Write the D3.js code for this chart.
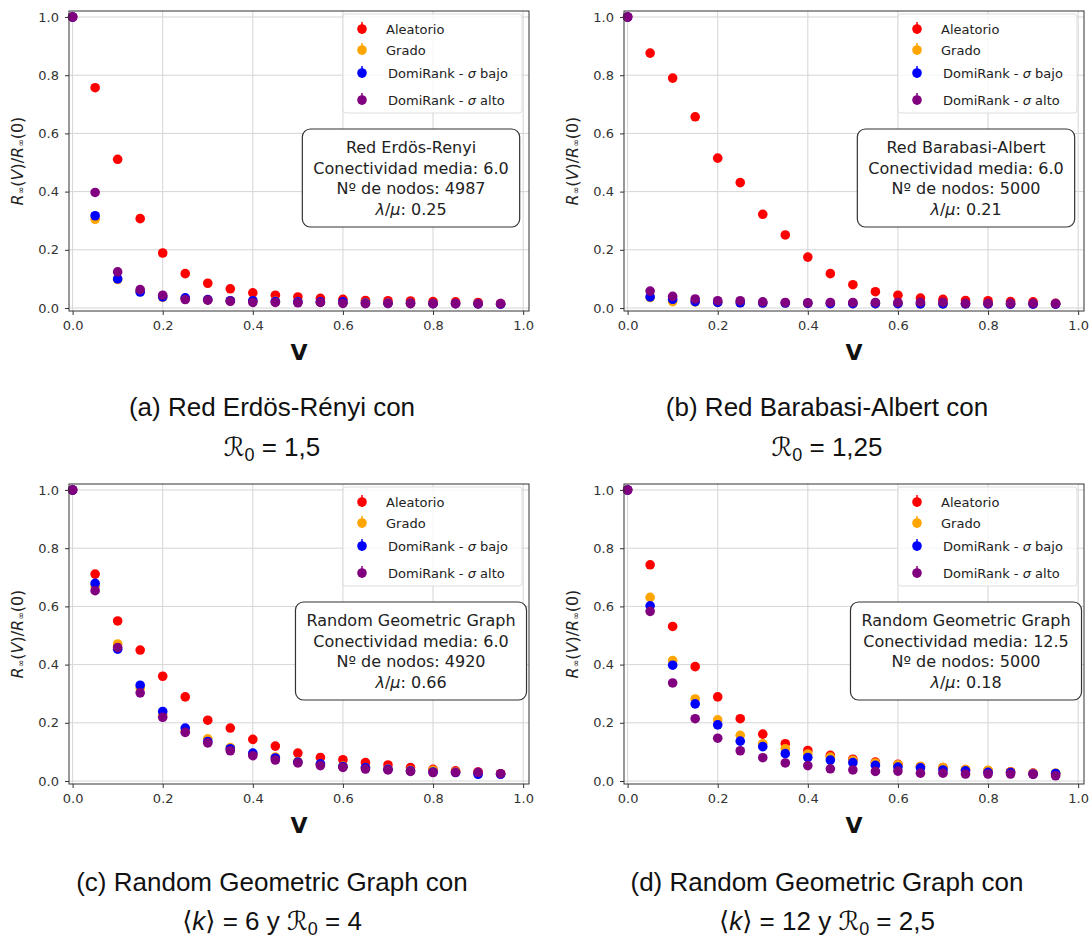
<!DOCTYPE html>
<html>
<head>
<meta charset="utf-8">
<script src="https://cdn.jsdelivr.net/npm/d3@7"></script>
<style>
  body { margin: 0; background: #fff; }
  svg { display: block; }
  .tick text { font-family: "DejaVu Sans", sans-serif; font-size: 13px; fill: #333; }
  .tick line { stroke: #333; }
</style>
</head>
<body>
<svg width="1092" height="943"></svg>
<script>
const fractions = [0, 0.05, 0.1, 0.15, 0.2, 0.25, 0.3, 0.35, 0.4, 0.45, 0.5, 0.55, 0.6, 0.65, 0.7, 0.75, 0.8, 0.85, 0.9, 0.95];
const tickValues = [0, 0.2, 0.4, 0.6, 0.8, 1.0];

const seriesNames = ['Aleatorio', 'Grado', 'DomiRank - σ bajo', 'DomiRank - σ alto'];
const seriesColors = ['#ff0000', '#ffa500', '#0000ff', '#800080'];

// (a) Erdös-Rényi
const erAleatorio = [1.0, 0.757, 0.511, 0.307, 0.189, 0.118, 0.085, 0.066, 0.052, 0.044, 0.038, 0.033, 0.030, 0.026, 0.025, 0.024, 0.022, 0.021, 0.019, 0.015];
const erGrado     = [1.0, 0.305, 0.098, 0.056, 0.037, 0.033, 0.028, 0.025, 0.024, 0.023, 0.021, 0.020, 0.019, 0.018, 0.017, 0.016, 0.015, 0.015, 0.014, 0.013];
const erDomiBajo  = [1.0, 0.317, 0.100, 0.055, 0.038, 0.035, 0.029, 0.025, 0.025, 0.022, 0.021, 0.021, 0.021, 0.017, 0.016, 0.016, 0.015, 0.015, 0.014, 0.013];
const erDomiAlto  = [1.0, 0.397, 0.124, 0.063, 0.044, 0.029, 0.027, 0.023, 0.019, 0.019, 0.018, 0.019, 0.016, 0.015, 0.016, 0.015, 0.015, 0.015, 0.015, 0.015];

// (b) Barabasi-Albert
const baAleatorio = [1.0, 0.876, 0.790, 0.657, 0.515, 0.431, 0.322, 0.251, 0.175, 0.118, 0.080, 0.056, 0.044, 0.034, 0.030, 0.026, 0.025, 0.022, 0.021, 0.016];
const baGrado     = [1.0, 0.036, 0.022, 0.021, 0.019, 0.018, 0.017, 0.017, 0.016, 0.016, 0.015, 0.015, 0.015, 0.014, 0.014, 0.014, 0.014, 0.013, 0.013, 0.013];
const baDomiBajo  = [1.0, 0.038, 0.030, 0.022, 0.019, 0.018, 0.017, 0.017, 0.016, 0.015, 0.015, 0.015, 0.015, 0.014, 0.014, 0.014, 0.014, 0.013, 0.013, 0.013];
const baDomiAlto  = [1.0, 0.058, 0.040, 0.031, 0.025, 0.025, 0.021, 0.019, 0.018, 0.019, 0.019, 0.019, 0.019, 0.020, 0.020, 0.016, 0.016, 0.016, 0.016, 0.015];

// (c) Random Geometric Graph, <k> = 6
const rgg6Aleatorio = [1.0, 0.711, 0.550, 0.450, 0.360, 0.289, 0.209, 0.182, 0.143, 0.120, 0.096, 0.081, 0.073, 0.063, 0.055, 0.046, 0.040, 0.035, 0.031, 0.025];
const rgg6Grado     = [1.0, 0.670, 0.471, 0.320, 0.228, 0.172, 0.145, 0.115, 0.092, 0.082, 0.067, 0.058, 0.051, 0.046, 0.041, 0.037, 0.037, 0.032, 0.028, 0.025];
const rgg6DomiBajo  = [1.0, 0.679, 0.453, 0.329, 0.239, 0.182, 0.136, 0.111, 0.096, 0.079, 0.065, 0.059, 0.050, 0.046, 0.040, 0.035, 0.031, 0.029, 0.023, 0.023];
const rgg6DomiAlto  = [1.0, 0.654, 0.459, 0.303, 0.219, 0.167, 0.131, 0.104, 0.087, 0.072, 0.062, 0.053, 0.047, 0.041, 0.038, 0.033, 0.029, 0.030, 0.030, 0.025];

// (d) Random Geometric Graph, <k> = 12
const rgg12Aleatorio = [1.0, 0.743, 0.531, 0.393, 0.289, 0.214, 0.161, 0.128, 0.105, 0.088, 0.075, 0.065, 0.057, 0.050, 0.046, 0.039, 0.035, 0.032, 0.027, 0.025];
const rgg12Grado     = [1.0, 0.631, 0.414, 0.282, 0.210, 0.157, 0.128, 0.111, 0.093, 0.082, 0.071, 0.062, 0.056, 0.050, 0.046, 0.039, 0.037, 0.031, 0.026, 0.027];
const rgg12DomiBajo  = [1.0, 0.602, 0.398, 0.265, 0.193, 0.137, 0.118, 0.094, 0.081, 0.072, 0.063, 0.054, 0.048, 0.045, 0.038, 0.035, 0.030, 0.029, 0.024, 0.026];
const rgg12DomiAlto  = [1.0, 0.583, 0.337, 0.214, 0.147, 0.104, 0.080, 0.062, 0.053, 0.042, 0.038, 0.033, 0.034, 0.027, 0.027, 0.024, 0.024, 0.024, 0.023, 0.018];

const infoLines = [
  ['Red Erdös-Renyi', 'Conectividad media: 6.0', 'Nº de nodos: 4987', '0.25'],
  ['Red Barabasi-Albert', 'Conectividad media: 6.0', 'Nº de nodos: 5000', '0.21'],
  ['Random Geometric Graph', 'Conectividad media: 6.0', 'Nº de nodos: 4920', '0.66'],
  ['Random Geometric Graph', 'Conectividad media: 12.5', 'Nº de nodos: 5000', '0.18']
];

const captionTitles = ['(a) Red Erdös-Rényi con', '(b) Red Barabasi-Albert con', '(c) Random Geometric Graph con', '(d) Random Geometric Graph con'];
// "_0" = subscript 0, "k" inside ⟨⟩ italic
const captionFormulas = ['ℛ_0 = 1,5', 'ℛ_0 = 1,25', '⟨k⟩ = 6 y ℛ_0 = 4', '⟨k⟩ = 12 y ℛ_0 = 2,5'];

const panelSeries = [
  [erAleatorio, erGrado, erDomiBajo, erDomiAlto],
  [baAleatorio, baGrado, baDomiBajo, baDomiAlto],
  [rgg6Aleatorio, rgg6Grado, rgg6DomiBajo, rgg6DomiAlto],
  [rgg12Aleatorio, rgg12Grado, rgg12DomiBajo, rgg12DomiAlto]
];

// layout
const frames = [
  {left: 69, top: 11}, {left: 624, top: 11},
  {left: 69, top: 484}, {left: 624, top: 484}
];
const plotW = 460, plotH = 300;
const captionX = [272, 827, 272, 827];
const captionY = [[416, 456], [416, 456], [891, 930], [891, 930]];

const svg = d3.select('svg');
const font = '"DejaVu Sans", sans-serif';

panelSeries.forEach((series, p) => {
  const f = frames[p];
  const g = svg.append('g').attr('transform', 'translate(' + f.left + ',' + f.top + ')');

  const x = d3.scaleLinear().domain([-0.008, 1.013]).range([0, plotW]);
  const y = d3.scaleLinear().domain([-0.0103, 1.0206]).range([plotH, 0]);

  // grid
  g.append('g').selectAll('line').data(tickValues).enter().append('line')
    .attr('x1', d => x(d)).attr('x2', d => x(d)).attr('y1', 0).attr('y2', plotH)
    .attr('stroke', '#d5d5d5').attr('stroke-width', 1);
  g.append('g').selectAll('line').data(tickValues).enter().append('line')
    .attr('y1', d => y(d)).attr('y2', d => y(d)).attr('x1', 0).attr('x2', plotW)
    .attr('stroke', '#d5d5d5').attr('stroke-width', 1);

  // axes
  const xAxis = g.append('g').attr('transform', 'translate(0,' + plotH + ')')
    .call(d3.axisBottom(x).tickValues(tickValues).tickFormat(d3.format('.1f')).tickSize(4).tickPadding(6).tickSizeOuter(0));
  const yAxis = g.append('g')
    .call(d3.axisLeft(y).tickValues(tickValues).tickFormat(d3.format('.1f')).tickSize(4).tickPadding(6).tickSizeOuter(0));
  xAxis.select('.domain').remove();
  yAxis.select('.domain').remove();

  // points
  series.forEach((vals, s) => {
    g.append('g').selectAll('circle').data(vals).enter().append('circle')
      .attr('cx', (d, i) => x(fractions[i]))
      .attr('cy', d => y(d))
      .attr('r', 4.8)
      .attr('fill', seriesColors[s]);
  });

  // frame
  g.append('rect').attr('width', plotW).attr('height', plotH)
    .attr('fill', 'none').attr('stroke', '#333').attr('stroke-width', 1);

  // legend
  const lg = g.append('g').attr('transform', 'translate(' + (plotW - 186) + ',3)');
  lg.append('rect').attr('width', 179).attr('height', 99).attr('rx', 3)
    .attr('fill', '#fff').attr('fill-opacity', 0.8).attr('stroke', '#ddd');
  const rowY = [15, 36, 59, 86];
  seriesNames.forEach((name, s) => {
    lg.append('line').attr('x1', 19).attr('x2', 19).attr('y1', rowY[s] - 7).attr('y2', rowY[s] + 5)
      .attr('stroke', seriesColors[s]).attr('stroke-width', 1.5);
    lg.append('circle').attr('cx', 19).attr('cy', rowY[s]).attr('r', 4.8).attr('fill', seriesColors[s]);
    const t = lg.append('text').attr('x', s < 2 ? 43 : 45).attr('y', rowY[s] + 5)
      .attr('font-family', font).attr('font-size', 13).attr('fill', '#222');
    const parts = name.split('σ');
    t.append('tspan').text(parts[0]);
    if (parts.length > 1) {
      t.append('tspan').attr('font-style', 'italic').text('σ');
      t.append('tspan').text(parts[1]);
    }
  });

  // info box
  const ib = g.append('g');
  const cx = 342, cy = 167, lineH = 20.8;
  const box = ib.append('rect').attr('rx', 8).attr('fill', '#fff').attr('stroke', '#333').attr('stroke-width', 1.2);
  const it = ib.append('text').attr('font-family', font).attr('font-size', 16).attr('fill', '#222')
    .attr('text-anchor', 'middle');
  infoLines[p].forEach((line, k) => {
    const ty = cy + (k - 1.5) * lineH + 6;
    if (k < 3) {
      it.append('tspan').attr('x', cx).attr('y', ty).text(line);
    } else {
      it.append('tspan').attr('x', cx).attr('y', ty).attr('font-style', 'italic').text('λ');
      it.append('tspan').text('/');
      it.append('tspan').attr('font-style', 'italic').text('μ');
      it.append('tspan').text(': ' + line);
    }
  });
  const bb = it.node().getBBox();
  box.attr('x', bb.x - 11).attr('y', cy - 49).attr('width', bb.width + 22).attr('height', 98);

  // x label
  g.append('text').attr('x', plotW / 2).attr('y', plotH + 49).attr('text-anchor', 'middle')
    .attr('font-family', font).attr('font-weight', 'bold').attr('font-size', 22).attr('fill', '#111').text('V');

  // y label
  const yl = g.append('text').attr('transform', 'translate(-51,' + (plotH / 2) + ') rotate(-90)')
    .attr('text-anchor', 'middle').attr('dominant-baseline', 'middle')
    .attr('font-family', font).attr('font-size', 16).attr('fill', '#222');
  yl.append('tspan').attr('font-style', 'italic').text('R');
  yl.append('tspan').attr('font-size', 9).attr('dy', 3).text('∞');
  yl.append('tspan').attr('dy', -3).text('(');
  yl.append('tspan').attr('font-style', 'italic').text('V');
  yl.append('tspan').text(')/');
  yl.append('tspan').attr('font-style', 'italic').text('R');
  yl.append('tspan').attr('font-size', 9).attr('dy', 3).text('∞');
  yl.append('tspan').attr('dy', -3).text('(0)');

  // caption
  const capFont = '"Liberation Sans", "DejaVu Sans", sans-serif';
  svg.append('text').attr('x', captionX[p]).attr('y', captionY[p][0]).attr('text-anchor', 'middle')
    .attr('font-family', capFont).attr('font-size', 26).attr('fill', '#111').text(captionTitles[p]);
  const c2 = svg.append('text').attr('x', captionX[p]).attr('y', captionY[p][1]).attr('text-anchor', 'middle')
    .attr('font-family', capFont).attr('font-size', 26).attr('fill', '#111');
  let shift = 0;
  captionFormulas[p].split(/(_0|k)/).forEach(tok => {
    if (tok === '') return;
    if (tok === '_0') {
      c2.append('tspan').attr('font-size', 18).attr('dy', 5).text('0');
      shift = -5;
      return;
    }
    const ts = c2.append('tspan').text(tok);
    if (tok === 'k') ts.attr('font-style', 'italic');
    if (shift) { ts.attr('dy', shift); shift = 0; }
  });
});
</script>
</body>
</html>
